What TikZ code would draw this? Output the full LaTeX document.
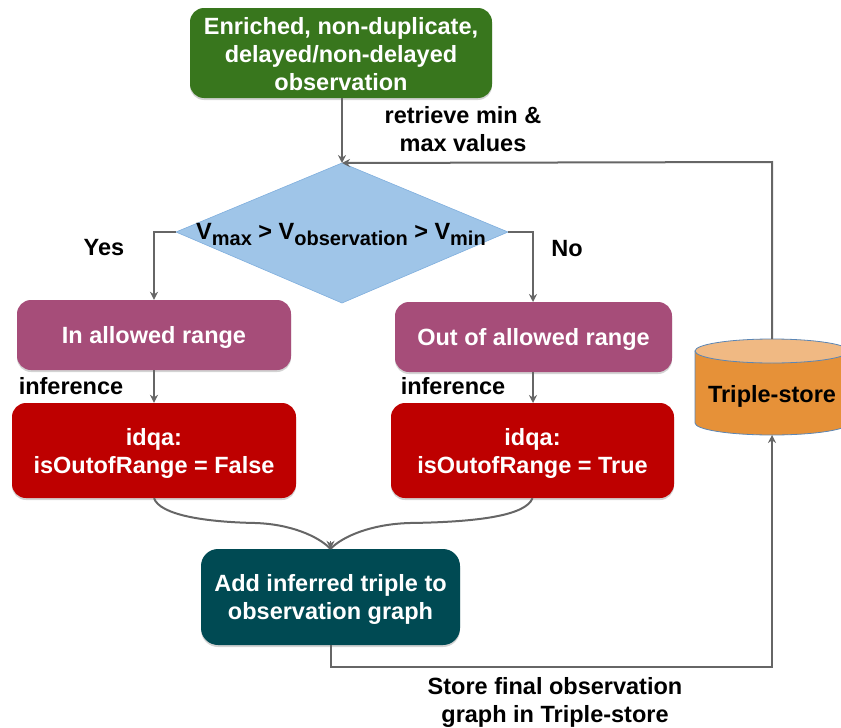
\documentclass[tikz,border=0pt]{standalone}
\usepackage{fontspec}
\setmainfont{Liberation Sans}
\usetikzlibrary{shadows,arrows.meta,positioning}
\definecolor{grn}{HTML}{38761D}
\definecolor{plum}{HTML}{A64D79}
\definecolor{rd}{HTML}{BE0000}
\definecolor{teal2}{HTML}{004A53}
\definecolor{blu}{HTML}{9FC5E8}
\definecolor{bluedge}{HTML}{7FAEDD}
\definecolor{org}{HTML}{E69138}
\definecolor{orgl}{HTML}{F0B983}
\definecolor{cylb}{HTML}{5B86B5}
\definecolor{lin}{HTML}{666666}
\tikzset{
 x=1pt,y=-1pt,
 base/.style={font=\fontsize{23.5}{28}\selectfont\bfseries,align=center},
 box/.style={base,rounded corners=14pt,text=white,inner sep=0pt,
   drop shadow={shadow xshift=0pt,shadow yshift=-2pt,opacity=.35}},
 lab/.style={base,text=black,inner sep=0pt},
 conn/.style={draw=lin,line width=2pt,-{Stealth[length=8pt,width=8pt]}},
 plainconn/.style={draw=lin,line width=2pt},
}
\newcommand{\subt}[1]{\raisebox{-6pt}{\fontsize{20}{20}\selectfont #1}}
\newcommand{\tup}[1]{\rule{0pt}{#1pt}}
\begin{document}
\begin{tikzpicture}
\useasboundingbox (0,0) rectangle (841,728);
% boxes
\node[box,fill=grn,minimum width=302pt,minimum height=90pt] (obs) at (341,53) {\tup{19.5}Enriched, non-duplicate,\\delayed/non-delayed\\observation};
\node[box,fill=plum,minimum width=274pt,minimum height=70pt] (inr) at (154,335) {\tup{21}In allowed range};
\node[box,fill=plum,minimum width=277pt,minimum height=70pt] (outr) at (533.5,337) {\tup{21}Out of allowed range};
\node[box,fill=rd,minimum width=284pt,minimum height=95pt] (f) at (154,450.5) {\tup{22}idqa:\\isOutofRange = False};
\node[box,fill=rd,minimum width=283pt,minimum height=95pt] (t) at (532.5,450.5) {\tup{22}idqa:\\isOutofRange = True};
\node[box,fill=teal2,minimum width=259pt,minimum height=96pt,rounded corners=17pt] (add) at (330.5,597) {\tup{21}Add inferred triple to\\observation graph};
% diamond
\coordinate (dt) at (342,163);
\coordinate (dl) at (176,232);
\coordinate (dr) at (508,232);
\coordinate (db) at (342,303);
\fill[blu,draw=bluedge,line width=.6pt] (dt) -- (dr) -- (db) -- (dl) -- cycle;
\node[lab,anchor=base] (dtxt) at (341,239) {V\subt{max} > V\subt{observation} > V\subt{min}};
% cylinder
\coordinate (ct) at (772,339);
\coordinate (cb) at (772,435);
\draw[cylb,line width=.8pt,fill=org] (695,351) -- (695,423) arc[start angle=180,end angle=0,x radius=77pt,y radius=-12pt] -- (849,351) -- cycle;
\draw[cylb,line width=.8pt,fill=orgl] (772,351) ellipse[x radius=77pt,y radius=12pt];
\node[lab] (cyl) at (772,396) {Triple-store};
% connectors
\draw[conn] (obs.south -| dt) -- (dt);
\draw[conn] (ct) -- (772,162) -- (dt);
\draw[conn] (dl) -- (154,232) -- (inr.north);
\draw[conn] (dr) -- (533,232) -- (533,302);
\draw[conn] (inr.south) -- (f.north);
\draw[conn] (533,372) -- (533,403);
\draw[plainconn] (f.south) .. controls (160,515) and (205,522) .. (255,523) .. controls (290,524) and (318,536) .. (add.north);
\draw[plainconn] (t.south) .. controls (526,515) and (481,522) .. (410,523) .. controls (372,524) and (343,536) .. (add.north);
\draw[conn,line width=1.2pt] (330.5,541) -- (add.north);
\draw[conn] (add.south) -- (330.5,667) -- (772,667) -- (cb);
% labels
\node[lab] (l1) at (463,129.5) {retrieve min \&\\max values};
\node[lab] (l2) at (104,248) {Yes};
\node[lab] (l3) at (567,249) {No};
\node[lab] (l4) at (71,386) {inference};
\node[lab] (l5) at (453,386) {inference};
\node[lab] (l6) at (555,702.5) {Store final observation\\graph in Triple-store};
\end{tikzpicture}
\end{document}
